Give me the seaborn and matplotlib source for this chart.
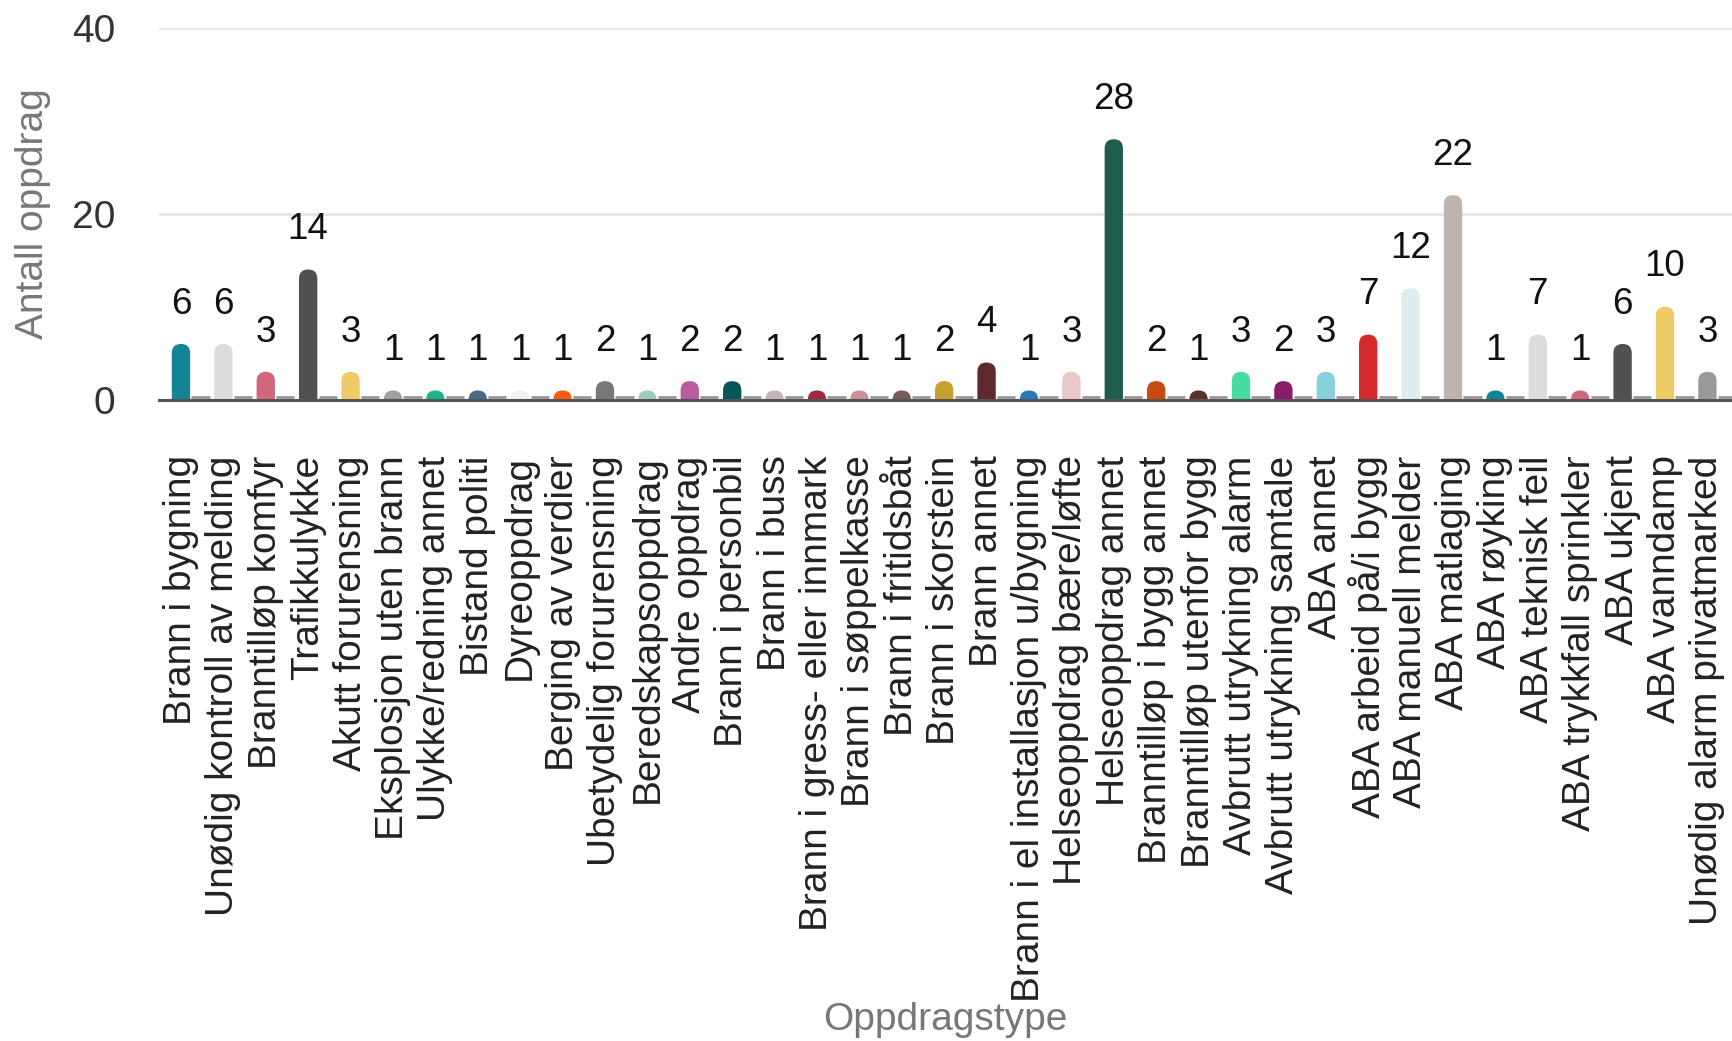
import pandas as pd
import matplotlib
matplotlib.use("Agg")
import matplotlib.pyplot as plt
import matplotlib.transforms as mtransforms
from matplotlib.patches import FancyBboxPatch
import seaborn as sns

# data
categories = [
    "Brann i bygning", "Unødig kontroll av melding", "Branntilløp komfyr", "Trafikkulykke",
    "Akutt forurensning", "Eksplosjon uten brann", "Ulykke/redning annet", "Bistand politi",
    "Dyreoppdrag", "Berging av verdier", "Ubetydelig forurensning", "Beredskapsoppdrag",
    "Andre oppdrag", "Brann i personbil", "Brann i buss", "Brann i gress- eller innmark",
    "Brann i søppelkasse", "Brann i fritidsbåt", "Brann i skorstein", "Brann annet",
    "Brann i el installasjon u/bygning", "Helseoppdrag bære/løfte", "Helseoppdrag annet",
    "Branntilløp i bygg annet", "Branntilløp utenfor bygg", "Avbrutt utrykning alarm",
    "Avbrutt utrykning samtale", "ABA annet", "ABA arbeid på/i bygg", "ABA manuell melder",
    "ABA matlaging", "ABA røyking", "ABA teknisk feil", "ABA trykkfall sprinkler",
    "ABA ukjent", "ABA vanndamp", "Unødig alarm privatmarked",
]
counts = [6, 6, 3, 14, 3, 1, 1, 1, 1, 1, 2, 1, 2, 2, 1, 1, 1, 1, 2, 4, 1, 3, 28,
          2, 1, 3, 2, 3, 7, 12, 22, 1, 7, 1, 6, 10, 3]
empty_series = [0] * len(categories)
bar_colors = [
    "#148393", "#dcdcdc", "#d0677a", "#505050", "#efcb68", "#a0a0a0", "#1cb38a", "#4a6a86",
    "#f0f0f0", "#ff5a10", "#777777", "#9fcdb8", "#b85ca0", "#0a545c", "#c8b4b8", "#9c2a42",
    "#c99098", "#7a5a5a", "#c8a030", "#5e2a2e", "#2a7ab8", "#e8c8c8", "#1f5c4c", "#c84a10",
    "#5e2e2e", "#48dca0", "#8a1a6a", "#88d0dc", "#d42a2e", "#dceeee", "#beb4b0", "#148393",
    "#dcdcdc", "#d0677a", "#505050", "#efcb68", "#999999",
]

n = len(categories)
df = pd.DataFrame({
    "Oppdragstype": categories * 2,
    "Antall": counts + empty_series,
    "serie": ["Antall"] * n + ["Tom"] * n,
})

sns.set_theme(style="white")
plt.rcParams["font.family"] = ["Liberation Sans", "DejaVu Sans"]

fig = plt.figure(figsize=(17.32, 10.41), dpi=100)
ax = fig.add_axes([0.092, 0.616, 0.908, 0.3575])

sns.barplot(data=df, x="Oppdragstype", y="Antall", hue="serie", hue_order=["Antall", "Tom"],
            palette=["#888888", "#888888"], width=0.92, gap=0.06, errorbar=None,
            legend=False, ax=ax)

ax.set_xlim(-0.74, n - 0.65)
ax.set_ylim(0, 40)
ax.set_yticks([0, 20, 40])

bars, dashes = ax.containers[0], ax.containers[1]

# zero series shows as small grey dashes sitting just on the baseline
lift = ax.transData + mtransforms.ScaledTranslation(0, 2.5 / 100, fig.dpi_scale_trans)
for p in dashes:
    p.set_edgecolor("#8c8c8c")
    p.set_linewidth(1.8)
    p.set_transform(lift)
    p.set_zorder(5)

# swap the plain bars for rounded ones
fig.canvas.draw()
px_x = ax.bbox.width / (ax.get_xlim()[1] - ax.get_xlim()[0])
px_y = ax.bbox.height / (ax.get_ylim()[1] - ax.get_ylim()[0])
aspect = px_x / px_y
for p, col in zip(bars, bar_colors):
    x, w, h = p.get_x(), p.get_width(), p.get_height()
    r = w / 2
    ry = r * aspect
    p.set_visible(False)
    rb = FancyBboxPatch((x, -ry), w, h + ry, boxstyle=f"round,pad=0,rounding_size={r}",
                        mutation_aspect=aspect, fc=col, ec="none", zorder=3)
    ax.add_patch(rb)

ax.bar_label(bars, labels=[str(c) for c in counts], padding=16, fontsize=26.5, color="#111111")

ax.set_xticks([p.get_x() + p.get_width() / 2 for p in bars], labels=categories, rotation=90)
ax.tick_params(axis="x", labelsize=28, pad=40, length=0, colors="#222222")
ax.tick_params(axis="y", labelsize=28, pad=32, length=0, colors="#333333")

ax.yaxis.grid(True, color="#e6e6e6", lw=2)
ax.set_axisbelow(True)
for s in ["top", "right", "left"]:
    ax.spines[s].set_visible(False)
ax.spines["bottom"].set_color("#555555")
ax.spines["bottom"].set_linewidth(2.2)
ax.spines["bottom"].set_zorder(4)

ax.set_ylabel("Antall oppdrag", fontsize=28, color="#777777")
ax.set_xlabel("Oppdragstype", fontsize=28, color="#777777")
ax.yaxis.set_label_coords(-0.069, 0.5)
ax.xaxis.set_label_coords(0.5, -1.617)

fig.savefig("out.png", dpi=100)
